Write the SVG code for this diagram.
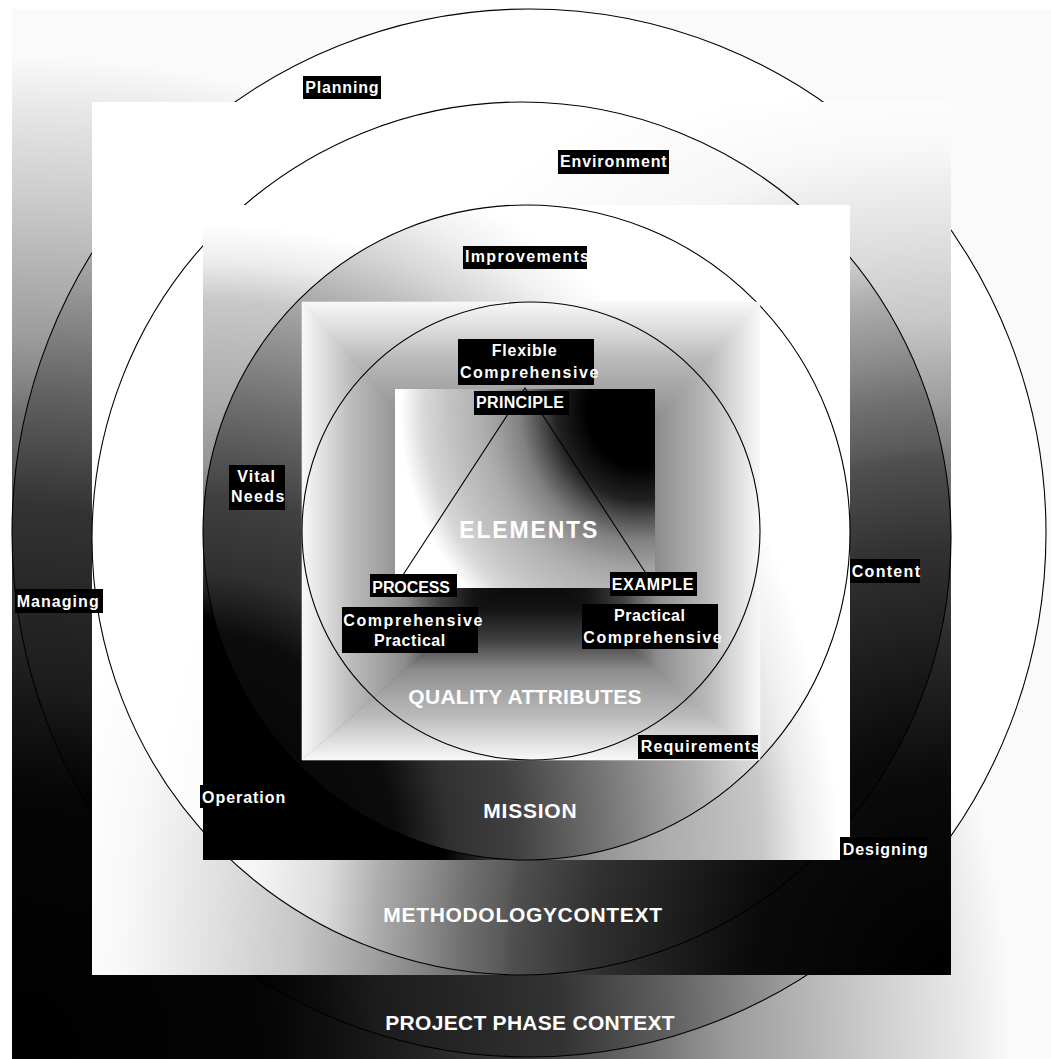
<svg xmlns="http://www.w3.org/2000/svg" xmlns:xlink="http://www.w3.org/1999/xlink" width="1051" height="1059" viewBox="0 0 1051 1059">
<defs>
<style>
.ring{stroke:#000;stroke-width:1.1}
.lb{fill:#000}
.lt{font-family:"Liberation Sans",Arial,Helvetica,sans-serif;font-weight:bold;font-size:16px;fill:#fff}
.big{font-family:"Liberation Sans",Arial,Helvetica,sans-serif;font-weight:bold;font-size:21px;fill:#fff}
.conn{fill:none;stroke:#000;stroke-width:1.1}
</style>
<radialGradient id="g1" gradientUnits="userSpaceOnUse" cx="12" cy="1056" r="1000">
<stop offset="0" stop-color="#000"/>
<stop offset="0.26" stop-color="#050505"/>
<stop offset="0.36" stop-color="#181818"/>
<stop offset="0.46" stop-color="#303030"/>
<stop offset="0.52" stop-color="#404040"/>
<stop offset="0.58" stop-color="#555"/>
<stop offset="0.64" stop-color="#707070"/>
<stop offset="0.68" stop-color="#888"/>
<stop offset="0.72" stop-color="#9c9c9c"/>
<stop offset="0.78" stop-color="#b0b0b0"/>
<stop offset="0.86" stop-color="#cccccc"/>
<stop offset="0.95" stop-color="#e8e8e8"/>
<stop offset="1" stop-color="#fafafa"/>
</radialGradient>
<radialGradient id="g1e" gradientUnits="userSpaceOnUse" cx="12" cy="1056" r="1000">
<stop offset="0" stop-color="#000"/>
<stop offset="0.25" stop-color="#000"/>
<stop offset="0.31" stop-color="#0c0c0c"/>
<stop offset="0.37" stop-color="#1c1c1c"/>
<stop offset="0.47" stop-color="#282828"/>
<stop offset="0.55" stop-color="#333"/>
<stop offset="0.61" stop-color="#4c4c4c"/>
<stop offset="0.66" stop-color="#606060"/>
<stop offset="0.7" stop-color="#747474"/>
<stop offset="0.76" stop-color="#929292"/>
<stop offset="0.86" stop-color="#c8c8c8"/>
<stop offset="0.94" stop-color="#e8e8e8"/>
<stop offset="0.98" stop-color="#fff"/>
</radialGradient>
<radialGradient id="g2" gradientUnits="userSpaceOnUse" cx="951" cy="975" r="900">
<stop offset="0" stop-color="#000"/>
<stop offset="0.22" stop-color="#0a0a0a"/>
<stop offset="0.37" stop-color="#2a2a2a"/>
<stop offset="0.49" stop-color="#505050"/>
<stop offset="0.58" stop-color="#808080"/>
<stop offset="0.65" stop-color="#a4a4a4"/>
<stop offset="0.73" stop-color="#c8c8c8"/>
<stop offset="0.82" stop-color="#e0e0e0"/>
<stop offset="0.92" stop-color="#f8f8f8"/>
<stop offset="1" stop-color="#fff"/>
</radialGradient>
<radialGradient id="g2e" gradientUnits="userSpaceOnUse" cx="951" cy="975" r="900" gradientTransform="translate(951 975) scale(1 1.1765) translate(-951 -975)">
<stop offset="0" stop-color="#000"/>
<stop offset="0.22" stop-color="#0a0a0a"/>
<stop offset="0.37" stop-color="#2a2a2a"/>
<stop offset="0.4" stop-color="#303030"/>
<stop offset="0.49" stop-color="#505050"/>
<stop offset="0.5" stop-color="#5a5a5a"/>
<stop offset="0.545" stop-color="#707070"/>
<stop offset="0.58" stop-color="#888"/>
<stop offset="0.64" stop-color="#acacac"/>
<stop offset="0.7" stop-color="#dcdcdc"/>
<stop offset="0.78" stop-color="#f6f6f6"/>
<stop offset="0.9" stop-color="#fff"/>
</radialGradient>
<radialGradient id="g3" gradientUnits="userSpaceOnUse" cx="203" cy="860" r="650">
<stop offset="0" stop-color="#000"/>
<stop offset="0.37" stop-color="#000"/>
<stop offset="0.45" stop-color="#383838"/>
<stop offset="0.53" stop-color="#6c6c6c"/>
<stop offset="0.61" stop-color="#959595"/>
<stop offset="0.7" stop-color="#aaa"/>
<stop offset="0.78" stop-color="#b8b8b8"/>
<stop offset="0.86" stop-color="#c8c8c8"/>
<stop offset="0.92" stop-color="#ececec"/>
<stop offset="0.98" stop-color="#fff"/>
</radialGradient>
<radialGradient id="g3e" gradientUnits="userSpaceOnUse" cx="203" cy="860" r="650" gradientTransform="translate(203 860) scale(1 1.163) translate(-203 -860)">
<stop offset="0" stop-color="#000"/>
<stop offset="0.3" stop-color="#0c0c0c"/>
<stop offset="0.38" stop-color="#303030"/>
<stop offset="0.48" stop-color="#404040"/>
<stop offset="0.61" stop-color="#707070"/>
<stop offset="0.69" stop-color="#909090"/>
<stop offset="0.77" stop-color="#b0b0b0"/>
<stop offset="0.84" stop-color="#d4d4d4"/>
<stop offset="0.91" stop-color="#f0f0f0"/>
<stop offset="0.97" stop-color="#fff"/>
</radialGradient>
<linearGradient id="p4">
<stop offset="0" stop-color="#f8f8f8"/>
<stop offset="0.12" stop-color="#d8d8d8"/>
<stop offset="0.22" stop-color="#bababa"/>
<stop offset="0.36" stop-color="#a0a0a0"/>
<stop offset="0.45" stop-color="#8c8c8c"/>
<stop offset="0.6" stop-color="#404040"/>
<stop offset="0.75" stop-color="#141414"/>
<stop offset="1" stop-color="#000"/>
</linearGradient>
<linearGradient id="p4t" xlink:href="#p4" gradientUnits="userSpaceOnUse" x1="0" y1="302" x2="0" y2="560"/>
<linearGradient id="p4b" xlink:href="#p4" gradientUnits="userSpaceOnUse" x1="0" y1="760" x2="0" y2="560"/>
<linearGradient id="p4l" xlink:href="#p4" gradientUnits="userSpaceOnUse" x1="302" y1="0" x2="531" y2="0"/>
<linearGradient id="p4r" xlink:href="#p4" gradientUnits="userSpaceOnUse" x1="760" y1="0" x2="531" y2="0"/>
<radialGradient id="g5" gradientUnits="userSpaceOnUse" cx="640" cy="410" r="240" gradientTransform="translate(640 410) scale(1 1.083) translate(-640 -410)">
<stop offset="0" stop-color="#000"/>
<stop offset="0.22" stop-color="#000"/>
<stop offset="0.35" stop-color="#222"/>
<stop offset="0.42" stop-color="#505050"/>
<stop offset="0.5" stop-color="#808080"/>
<stop offset="0.6" stop-color="#a0a0a0"/>
<stop offset="0.67" stop-color="#b0b0b0"/>
<stop offset="0.8" stop-color="#c4c4c4"/>
<stop offset="0.9" stop-color="#d8d8d8"/>
<stop offset="0.97" stop-color="#f4f4f4"/>
<stop offset="1" stop-color="#fff"/>
</radialGradient>
</defs>
<rect width="1051" height="1059" fill="#fff"/>

<g id="level-project-phase">
<rect x="12" y="9" width="1039" height="1050" fill="url(#g1)"/>
<ellipse class="ring" fill="url(#g1e)" cx="529" cy="533" rx="517" ry="524"/>
</g>

<g id="level-methodology">
<rect x="92" y="102" width="859" height="873" fill="url(#g2)"/>
<ellipse class="ring" fill="url(#g2e)" cx="521.5" cy="538.5" rx="429.5" ry="436.5"/>
</g>

<g id="level-mission">
<rect x="203" y="205" width="647" height="655" fill="url(#g3)"/>
<ellipse class="ring" fill="url(#g3e)" cx="526.5" cy="532.5" rx="323.5" ry="327.5"/>
</g>

<g id="level-quality">
<polygon points="302,302 760,302 531,560" fill="url(#p4t)" stroke="url(#p4t)" stroke-width="0.6"/>
<polygon points="302,760 760,760 531,560" fill="url(#p4b)" stroke="url(#p4b)" stroke-width="0.6"/>
<polygon points="302,302 302,760 531,560" fill="url(#p4l)" stroke="url(#p4l)" stroke-width="0.6"/>
<polygon points="760,302 760,760 531,560" fill="url(#p4r)" stroke="url(#p4r)" stroke-width="0.6"/>
<circle class="ring" fill="none" cx="531" cy="531" r="229"/>
</g>

<g id="level-elements">
<rect x="395" y="389" width="260" height="199" fill="url(#g5)"/>
</g>

<g id="connectors">
<polyline class="conn" points="401,578 525,388 647,575"/>
</g>

<g id="title-elements"><text class="big" x="459.3" y="538.3" style="font-size:23px" textLength="138" lengthAdjust="spacing">ELEMENTS</text></g>
<g id="title-quality"><text class="big" x="408.3" y="704.3" textLength="233.3" lengthAdjust="spacing">QUALITY ATTRIBUTES</text></g>
<g id="title-mission"><text class="big" x="483.3" y="817.7" textLength="93.3" lengthAdjust="spacing">MISSION</text></g>
<g id="title-methodology"><text class="big" x="383.3" y="921.7" textLength="278.7" lengthAdjust="spacing">METHODOLOGYCONTEXT</text></g>
<g id="title-project"><text class="big" x="385.3" y="1030" textLength="289.3" lengthAdjust="spacing">PROJECT PHASE CONTEXT</text></g>

<g id="label-planning"><rect class="lb" x="303" y="76" width="78" height="23"/><text class="lt" x="305.3" y="93" textLength="73.3" lengthAdjust="spacing">Planning</text></g>
<g id="label-environment"><rect class="lb" x="558" y="150" width="111" height="24"/><text class="lt" x="560" y="166.7" textLength="106.7" lengthAdjust="spacing">Environment</text></g>
<g id="label-improvements"><rect class="lb" x="463" y="246" width="124" height="23"/><text class="lt" x="465" y="261.7" textLength="124" lengthAdjust="spacing">Improvements</text></g>
<g id="label-flexible"><rect class="lb" x="458" y="339" width="136" height="46"/><text class="lt" x="491.7" y="355.7" textLength="65" lengthAdjust="spacing">Flexible</text><text class="lt" x="460" y="377.7" textLength="138.3" lengthAdjust="spacing">Comprehensive</text></g>
<g id="label-principle"><rect class="lb" x="474" y="391" width="95" height="24"/><text class="lt" x="476" y="407.7" textLength="88" lengthAdjust="spacing">PRINCIPLE</text></g>
<g id="label-process"><rect class="lb" x="370" y="574" width="87" height="23"/><text class="lt" x="372.3" y="592.7" textLength="77.7" lengthAdjust="spacing">PROCESS</text></g>
<g id="label-example"><rect class="lb" x="610" y="572" width="87" height="24"/><text class="lt" x="611.7" y="590" textLength="81.7" lengthAdjust="spacing">EXAMPLE</text></g>
<g id="label-process-attrs"><rect class="lb" x="342" y="607" width="136" height="46"/><text class="lt" x="343.3" y="625.7" textLength="139" lengthAdjust="spacing">Comprehensive</text><text class="lt" x="374" y="646" textLength="71.3" lengthAdjust="spacing">Practical</text></g>
<g id="label-example-attrs"><rect class="lb" x="582" y="604" width="136" height="45"/><text class="lt" x="614" y="621" textLength="71" lengthAdjust="spacing">Practical</text><text class="lt" x="583.3" y="642.7" textLength="138.4" lengthAdjust="spacing">Comprehensive</text></g>
<g id="label-requirements"><rect class="lb" x="638" y="735" width="120" height="24"/><text class="lt" x="640.7" y="751.7" textLength="119.3" lengthAdjust="spacing">Requirements</text></g>
<g id="label-vital-needs"><rect class="lb" x="229" y="465" width="56" height="45"/><text class="lt" x="237.3" y="481.7" textLength="37.7" lengthAdjust="spacing">Vital</text><text class="lt" x="231" y="502.3" textLength="53.3" lengthAdjust="spacing">Needs</text></g>
<g id="label-managing"><rect class="lb" x="15" y="589" width="88" height="24"/><text class="lt" x="16.7" y="606.7" textLength="82" lengthAdjust="spacing">Managing</text></g>
<g id="label-content"><rect class="lb" x="850" y="559" width="70" height="24"/><text class="lt" x="851.7" y="577" textLength="68.3" lengthAdjust="spacing">Content</text></g>
<g id="label-operation"><rect class="lb" x="200" y="785" width="87" height="23"/><text class="lt" x="202" y="802.7" textLength="83.3" lengthAdjust="spacing">Operation</text></g>
<g id="label-designing"><rect class="lb" x="840" y="837" width="88" height="23"/><text class="lt" x="842.7" y="855" textLength="85" lengthAdjust="spacing">Designing</text></g>
</svg>
